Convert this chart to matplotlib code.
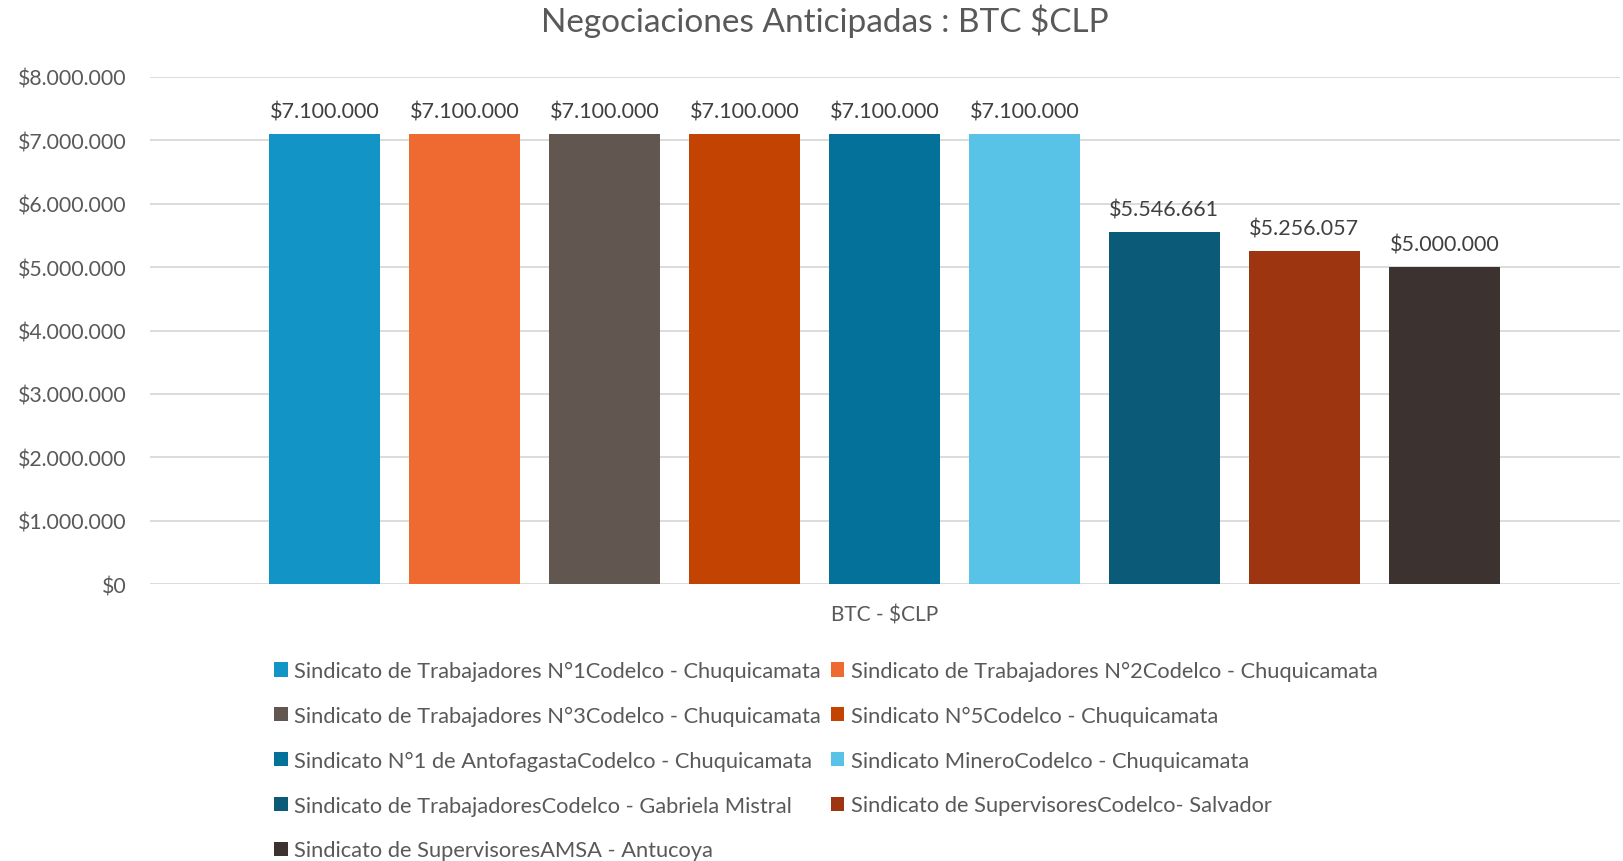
import matplotlib.pyplot as plt
import numpy as np

# data
sindicatos = [
    "Sindicato de Trabajadores N°1Codelco - Chuquicamata",
    "Sindicato de Trabajadores N°2Codelco - Chuquicamata",
    "Sindicato de Trabajadores N°3Codelco - Chuquicamata",
    "Sindicato N°5Codelco - Chuquicamata",
    "Sindicato N°1 de AntofagastaCodelco - Chuquicamata",
    "Sindicato MineroCodelco - Chuquicamata",
    "Sindicato de TrabajadoresCodelco - Gabriela Mistral",
    "Sindicato de SupervisoresCodelco- Salvador",
    "Sindicato de SupervisoresAMSA - Antucoya",
]
montos = [7100000, 7100000, 7100000, 7100000, 7100000, 7100000, 5546661, 5256057, 5000000]
colores = ["#1294C7", "#EE6A31", "#625750", "#C24302", "#04719A",
           "#58C3E6", "#0B5B78", "#9C3510", "#3C3230"]
yticks = np.arange(0, 8000001, 1000000)

TXT = "#595959"
plt.rcParams['font.family'] = ['Lato', 'DejaVu Sans']

W, H = 1623, 862
fig = plt.figure(figsize=(W / 100, H / 100), dpi=100)
ax = fig.add_axes([150 / W, (H - 585) / H, 1470 / W, 507 / H])

def peso(v):
    return "$" + f"{int(v):,}".replace(",", ".")

x = np.arange(len(montos))
bars = []
for i, (m, c, s) in enumerate(zip(montos, colores, sindicatos)):
    b = ax.bar(x[i], m, width=0.79, color=c, label=s, zorder=3)
    bars.append(b)
    ax.annotate(peso(m), (x[i], m), xytext=(0, 9), textcoords="offset points",
                ha="center", va="bottom", fontsize=15.5, color="#404040")

ax.set_ylim(0, 8000000)
ax.set_xlim(-1.245, len(montos) - 1 + 1.255)
ax.set_yticks(yticks)
ax.set_yticklabels([peso(v) for v in yticks], fontsize=15.3, color=TXT)
ax.set_xticks([])
ax.tick_params(axis="y", length=0, pad=17)
ax.grid(axis="y", color="#D9D9D9", linewidth=1.3, zorder=0)
for sp in ax.spines.values():
    sp.set_visible(False)

fig.text(885 / W, 1 - 616 / H, "BTC - $CLP", ha="center", va="center",
         fontsize=15, color=TXT)
fig.text(825 / W, 1 - 21 / H, "Negociaciones Anticipadas : BTC $CLP",
         ha="center", va="center", fontsize=24, color=TXT)

# legend filled row by row like the original
order = [0, 2, 4, 6, 8, 1, 3, 5, 7]
leg = fig.legend([bars[i] for i in order], [sindicatos[i] for i in order],
                 ncol=2, loc="upper left", bbox_to_anchor=(274 / W, 1 - 662 / H),
                 frameon=False, fontsize=15.75, labelcolor=TXT,
                 handlelength=0.62, handleheight=0.62, handletextpad=0.3,
                 columnspacing=0.45, labelspacing=1.13, borderpad=0, borderaxespad=0)

fig.savefig("out.png", dpi=100)
